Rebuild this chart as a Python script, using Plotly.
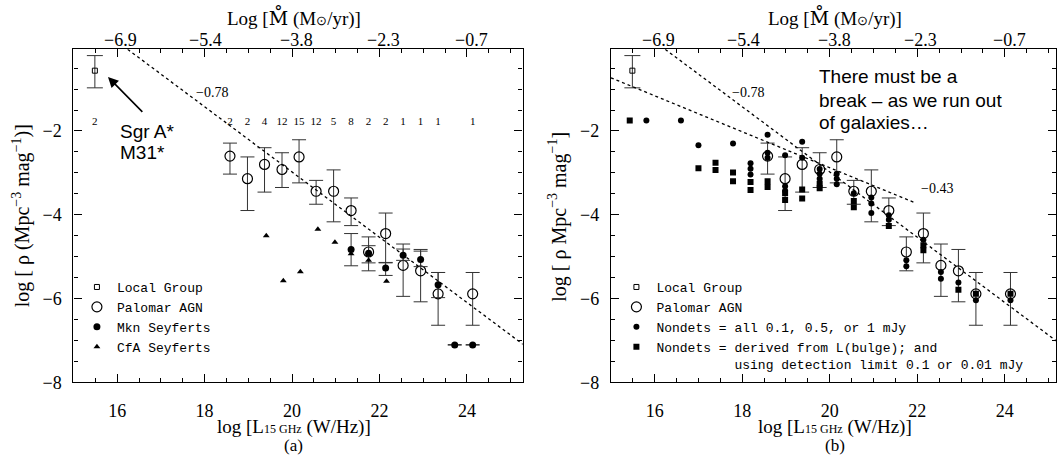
import plotly.graph_objects as go

W, H = 1057, 465

# ---------------- data ----------------
# Local Group (both panels)
lg_x = [15.49]
lg_y = [-0.56]
lg_hi = [-0.20]
lg_lo = [-0.97]
lg_n = ["2"]

# Palomar AGN (both panels)
pal_x = [18.58, 18.98, 19.37, 19.77, 20.16, 20.55, 20.95, 21.35, 21.75, 22.14, 22.54, 22.94, 23.34, 24.13]
pal_y = [-2.60, -3.14, -2.80, -2.92, -2.62, -3.44, -3.44, -3.90, -4.89, -4.45, -5.21, -5.34, -5.89, -5.89]
pal_hi = [-2.29, -2.62, -2.40, -2.52, -2.21, -3.18, -2.93, -3.60, -4.53, -3.96, -4.70, -4.83, -5.38, -5.38]
pal_lo = [-3.03, -3.90, -3.46, -3.35, -3.24, -3.75, -4.17, -4.26, -5.34, -5.15, -5.95, -6.08, -6.64, -6.64]
pal_n = ["2", "2", "4", "12", "15", "12", "5", "8", "2", "2", "1", "1", "1", "1"]
count_y = -1.78

# Mkn Seyferts (panel a)
mkn_x = [21.35, 21.75, 22.14, 22.54, 22.94, 23.34]
mkn_y = [-4.83, -4.92, -5.27, -4.97, -5.07, -5.67]
mkn_hi = [-4.45, -4.74, -5.14, -4.82, -4.87, -5.38]
mkn_lo = [-5.22, -5.15, -5.45, -5.09, -5.24, -5.98]
mkn_lim_x = [23.72, 24.13]
mkn_lim_y = [-7.11, -7.11]
mkn_lim_xerr = [0.16, 0.16]

# CfA Seyferts (panel a)
cfa_x = [19.41, 19.80, 20.19, 20.59, 20.98, 21.35, 21.75, 22.16]
cfa_y = [-4.50, -5.58, -5.36, -4.35, -4.66, -4.93, -5.09, -5.59]

# Nondets = all 0.1, 0.5 or 1 mJy (panel b, filled circles)
ndc_x = [15.81, 16.60, 17.00, 17.79,
         18.19, 18.19, 18.19,
         18.58, 18.58, 18.58,
         18.98, 18.98, 18.98,
         19.37, 19.37,
         19.77, 19.77, 19.77,
         20.16, 20.16, 20.16,
         20.55,
         20.95, 20.95, 20.95,
         21.35, 21.35,
         21.75, 21.75,
         22.14,
         22.54, 22.54,
         22.94,
         23.34, 24.13]
ndc_y = [-1.75, -1.75, -2.34, -2.30,
         -2.77, -2.90, -3.04,
         -2.09, -2.52, -2.64,
         -2.58, -3.32, -3.43,
         -2.26, -2.64,
         -2.91, -3.02, -3.14,
         -3.02, -3.14, -3.27,
         -3.49,
         -3.59, -3.73, -3.96,
         -4.01, -4.12,
         -5.09, -5.23,
         -4.60,
         -5.37, -5.53,
         -5.62,
         -6.04, -6.04]

# Nondets derived from L(bulge) (panel b, filled squares)
nds_x = [15.43, 17.00, 17.39, 17.39, 17.79, 17.79, 18.19, 18.19, 18.58, 18.58,
         18.98, 18.98, 19.37, 19.37, 19.77, 19.77, 20.55, 20.55, 21.35,
         22.14, 22.14, 22.94, 23.34, 24.13]
nds_y = [-1.75, -2.89, -2.76, -2.93, -2.99, -3.20, -3.22, -3.41, -3.20, -3.34,
         -3.49, -3.65, -3.40, -3.61, -3.26, -3.37, -3.67, -3.82, -4.27,
         -4.73, -4.85, -5.79, -5.89, -5.89]

# power-law guide lines
l78_x = [16.24, 25.30]
l78_y = [-0.05, -7.11]
l43_x = [15.00, 21.96]
l43_y = [-0.73, -3.72]

# top axis: accretion rate labels
top_vals = [16.08, 18.02, 20.1, 22.08, 24.1]
top_text = ["\u22126.9", "\u22125.4", "\u22123.8", "\u22122.3", "\u22120.7"]

note_lines = ["There must be a", "break \u2013 as we run out", "of galaxies\u2026"]

# ---------------- styling ----------------
SERIF = "Liberation Serif"
MONO = "Liberation Mono"
BLK = "black"
ERR = "#333333"

xl_dom = [73.5 / W, 523 / W]
xr_dom = [611.5 / W, 1.0]
y_dom = [1 - 390.6 / H, 1 - 50.4 / H]
x_range_l = [15, 25.27]
x_range_r = [15, 25.17]
y_range = [-8, -0.05]

fig = go.Figure()


def add_common(xa, ya, leg):
    # Local Group
    fig.add_trace(go.Scatter(
        x=lg_x, y=lg_y, mode="markers", name="Local Group", legend=leg,
        xaxis=xa, yaxis=ya,
        marker=dict(symbol="square-open", size=5, color=BLK, line=dict(width=1)),
        error_y=dict(type="data", symmetric=False,
                     array=[h - v for h, v in zip(lg_hi, lg_y)],
                     arrayminus=[v - l for v, l in zip(lg_y, lg_lo)],
                     color=ERR, thickness=1, width=8)))
    # Palomar AGN
    fig.add_trace(go.Scatter(
        x=pal_x, y=pal_y, mode="markers", name="Palomar AGN", legend=leg,
        xaxis=xa, yaxis=ya,
        marker=dict(symbol="circle-open", size=10, color=BLK, line=dict(width=1.2)),
        error_y=dict(type="data", symmetric=False,
                     array=[h - v for h, v in zip(pal_hi, pal_y)],
                     arrayminus=[v - l for v, l in zip(pal_y, pal_lo)],
                     color=ERR, thickness=1, width=7)))


# ---- panel (a) ----
add_common("x", "y", "legend")
fig.add_trace(go.Scatter(
    x=mkn_x, y=mkn_y, mode="markers", name="Mkn Seyferts", legend="legend",
    xaxis="x", yaxis="y",
    marker=dict(symbol="circle", size=7, color=BLK),
    error_y=dict(type="data", symmetric=False,
                 array=[h - v for h, v in zip(mkn_hi, mkn_y)],
                 arrayminus=[v - l for v, l in zip(mkn_y, mkn_lo)],
                 color=ERR, thickness=1, width=7)))
fig.add_trace(go.Scatter(
    x=cfa_x, y=cfa_y, mode="markers", name="CfA Seyferts", legend="legend",
    xaxis="x", yaxis="y",
    marker=dict(symbol="triangle-up", size=6, color=BLK)))
fig.add_trace(go.Scatter(
    x=mkn_lim_x, y=mkn_lim_y, mode="markers", showlegend=False,
    xaxis="x", yaxis="y",
    marker=dict(symbol="circle", size=7, color=BLK),
    error_x=dict(type="data", array=mkn_lim_xerr, color=BLK, thickness=1.2, width=0)))
fig.add_trace(go.Scatter(
    x=l78_x, y=l78_y, mode="lines", showlegend=False, xaxis="x", yaxis="y",
    line=dict(color=BLK, width=1.3, dash="dot")))
fig.add_trace(go.Scatter(
    x=lg_x + pal_x, y=[count_y] * (len(lg_x) + len(pal_x)), mode="text",
    text=lg_n + pal_n, showlegend=False, xaxis="x", yaxis="y",
    textfont=dict(family=SERIF, size=11, color=BLK)))

# ---- panel (b) ----
add_common("x2", "y2", "legend2")
fig.add_trace(go.Scatter(
    x=ndc_x, y=ndc_y, mode="markers", name="Nondets = all 0.1, 0.5, or 1 mJy",
    legend="legend2", xaxis="x2", yaxis="y2",
    marker=dict(symbol="circle", size=6, color=BLK)))
fig.add_trace(go.Scatter(
    x=nds_x, y=nds_y, mode="markers",
    name="Nondets = derived from L(bulge); and<br>" + "\u00a0" * 10 +
         "using detection limit 0.1 or 0.01 mJy",
    legend="legend2", xaxis="x2", yaxis="y2",
    marker=dict(symbol="square", size=6, color=BLK)))
fig.add_trace(go.Scatter(
    x=l78_x, y=l78_y, mode="lines", showlegend=False, xaxis="x2", yaxis="y2",
    line=dict(color=BLK, width=1.3, dash="dot")))
fig.add_trace(go.Scatter(
    x=l43_x, y=l43_y, mode="lines", showlegend=False, xaxis="x2", yaxis="y2",
    line=dict(color=BLK, width=1.3, dash="dot")))

# ---------------- axes ----------------
def xaxis(dom, rng, anchor):
    return dict(domain=dom, range=rng, anchor=anchor, dtick=2, tick0=0,
                showline=True, linecolor=BLK, linewidth=1.2, mirror="ticks",
                ticks="inside", ticklen=8, tickwidth=1, tickcolor=BLK,
                minor=dict(ticks="inside", ticklen=4, tickwidth=1, tickcolor=BLK, dtick=0.5),
                showgrid=False, zeroline=False, ticklabelstandoff=12,
                tickfont=dict(family=SERIF, size=18, color=BLK))


def yaxis(anchor):
    return dict(domain=y_dom, range=y_range, anchor=anchor, dtick=2, tick0=0,
                showline=True, linecolor=BLK, linewidth=1.2, mirror="ticks",
                ticks="inside", ticklen=8, tickwidth=1, tickcolor=BLK,
                minor=dict(ticks="inside", ticklen=4, tickwidth=1, tickcolor=BLK, dtick=0.5),
                showgrid=False, zeroline=False, ticklabelstandoff=7,
                tickfont=dict(family=SERIF, size=18, color=BLK))


MDOT = '<span style="font-family:DejaVu Serif">M\u030a</span>'
XTITLE = 'log [L<span style="font-size:12px">15 GHz</span> (W/Hz)]'
TTITLE = "Log [" + MDOT + ' (M<span style="font-size:13px">\u2299</span>/yr)]'

ann = []
for xr, cx, lab in (("x", 294, "(a)"), ("x2", 836, "(b)")):
    for v, t in zip(top_vals, top_text):
        ann.append(dict(x=v, y=1 - 41 / H, xref=xr, yref="paper", text=t,
                        showarrow=False, xanchor="center", yanchor="middle",
                        font=dict(family=SERIF, size=18, color=BLK)))
    ann.append(dict(x=cx / W, y=1 - 18 / H, xref="paper", yref="paper",
                    text=TTITLE, showarrow=False,
                    xanchor="center", yanchor="middle",
                    font=dict(family=SERIF, size=19, color=BLK)))
    ann.append(dict(x=cx / W, y=1 - 436 / H, xref="paper", yref="paper",
                    text=XTITLE, showarrow=False,
                    xanchor="center", yanchor="middle",
                    font=dict(family=SERIF, size=19, color=BLK)))
    ann.append(dict(x=cx / W, y=1 - 455 / H, xref="paper", yref="paper", text=lab,
                    showarrow=False, xanchor="center", yanchor="middle",
                    font=dict(family=SERIF, size=17, color=BLK)))
ann.append(dict(x=21 / W, y=1 - 220 / H, xref="paper", yref="paper",
                text="log [ \u03c1 (Mpc<sup>\u22123</sup> mag<sup>\u22121</sup>)]",
                textangle=-90, showarrow=False, xanchor="center", yanchor="middle",
                font=dict(family=SERIF, size=20, color=BLK)))
ann.append(dict(x=558 / W, y=1 - 221 / H, xref="paper", yref="paper",
                text="log [ \u03c1 Mpc<sup>\u22123</sup> mag<sup>\u22121</sup>]",
                textangle=-90, showarrow=False, xanchor="center", yanchor="middle",
                font=dict(family=SERIF, size=20, color=BLK)))
# slope labels
ann.append(dict(x=18.16, y=-1.09, xref="x", yref="y", text="\u22120.78", showarrow=False,
                font=dict(family=SERIF, size=14, color=BLK)))
ann.append(dict(x=18.13, y=-1.09, xref="x2", yref="y2", text="\u22120.78", showarrow=False,
                font=dict(family=SERIF, size=14, color=BLK)))
ann.append(dict(x=22.46, y=-3.37, xref="x2", yref="y2", text="\u22120.43", showarrow=False,
                font=dict(family=SERIF, size=14, color=BLK)))
# arrow to Sgr A*
ann.append(dict(x=15.79, y=-0.71, xref="x", yref="y", ax=16.61, ay=-1.58,
                axref="x", ayref="y", text="", showarrow=True, arrowhead=2,
                arrowsize=1.3, arrowwidth=1.6, arrowcolor=BLK, standoff=0))
ann.append(dict(x=16.03, y=-2.01, xref="x", yref="y", text="Sgr A*", showarrow=False,
                xanchor="left", yanchor="middle",
                font=dict(family="Liberation Sans", size=19, color=BLK)))
ann.append(dict(x=16.03, y=-2.52, xref="x", yref="y", text="M31*", showarrow=False,
                xanchor="left", yanchor="middle",
                font=dict(family="Liberation Sans", size=19, color=BLK)))
for t, yv in zip(note_lines, [-0.69, -1.27, -1.80]):
    ann.append(dict(x=19.70, y=yv, xref="x2", yref="y2", text=t, showarrow=False,
                    xanchor="left", yanchor="middle",
                    font=dict(family="Liberation Sans", size=19, color=BLK)))

LEG = dict(xanchor="left", yanchor="top", bgcolor="rgba(0,0,0,0)", borderwidth=0,
           font=dict(family=MONO, size=13, color=BLK), valign="top",
           tracegroupgap=0, itemwidth=30)

fig.update_layout(
    width=W, height=H, margin=dict(l=0, r=0, t=0, b=0),
    paper_bgcolor="white", plot_bgcolor="white",
    xaxis=xaxis(xl_dom, x_range_l, "y"),
    yaxis=yaxis("x"),
    xaxis2=xaxis(xr_dom, x_range_r, "y2"),
    yaxis2=yaxis("x2"),
    legend=dict(x=77 / W, y=1 - 278 / H, **LEG),
    legend2=dict(x=617 / W, y=1 - 278 / H, **LEG),
    annotations=ann,
)

fig.write_html("out.html")
